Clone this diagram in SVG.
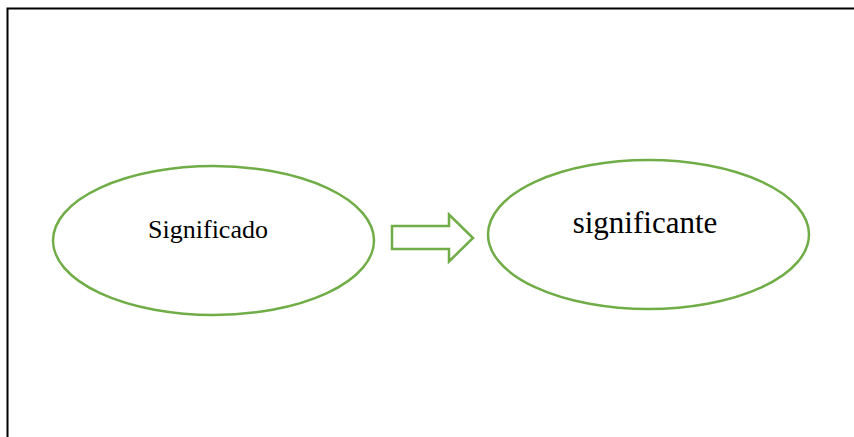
<svg xmlns="http://www.w3.org/2000/svg" width="854" height="437" viewBox="0 0 854 437">
<style>
.node{fill:#ffffff;stroke:#70AD47;stroke-width:2.5}
.lbl{font-family:"Liberation Serif","Times New Roman",serif;fill:#000000;text-anchor:middle}
</style>
<rect x="0" y="0" width="854" height="437" fill="#ffffff"/>
<rect x="7.5" y="8.5" width="860" height="440" fill="none" stroke="#000000" stroke-width="2"/>
<g id="significado">
<ellipse class="node" cx="213.5" cy="240.5" rx="160.5" ry="74.5"/>
<text class="lbl" x="208" y="238" font-size="26">Significado</text>
</g>
<g id="significante">
<ellipse class="node" cx="648.5" cy="234.5" rx="160.5" ry="74.5"/>
<text class="lbl" x="645" y="233" font-size="31">significante</text>
</g>
<g id="connectors">
<polygon points="392,226 449,226 449,214.5 473,238 449,261.5 449,249 392,249" fill="#ffffff" stroke="#70AD47" stroke-width="2.5"/>
</g>
</svg>
